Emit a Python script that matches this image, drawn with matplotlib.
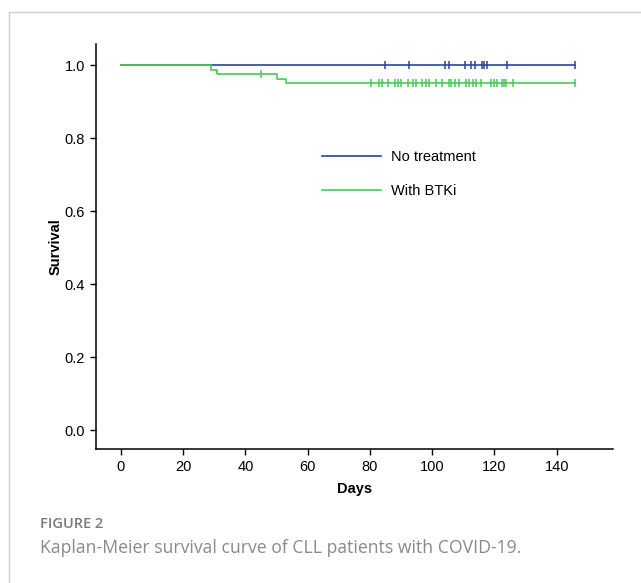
import matplotlib
matplotlib.use("Agg")
import matplotlib.pyplot as plt
from matplotlib.lines import Line2D
import numpy as np

# ---- data ----
series_names = ["No treatment", "With BTKi"]

# No treatment: no events, survival stays 1.0
blue_step_times = [0, 146]
blue_step_surv = [1.0, 1.0]
blue_censor_times = [84.8, 92.7, 104.0, 105.5, 110.6, 112.6, 113.9, 115.9,
                     116.6, 117.5, 123.9, 145.8]

# With BTKi: step function
green_step_times = [0, 29, 31, 50, 53, 146]
green_step_surv = [1.0, 0.9875, 0.975, 0.9625, 0.95, 0.95]
green_censor_times = [45.0, 80.3, 82.9, 83.8, 85.9, 88.2, 89.0, 90.1, 92.2,
                      93.8, 94.9, 96.7, 98.0, 98.9, 101.1, 103.1, 105.3,
                      106.2, 107.2, 108.6, 111.0, 111.7, 113.1, 114.2, 115.6,
                      118.8, 120.0, 120.8, 122.3, 123.0, 123.7, 126.0, 145.8]

x_ticks = [0, 20, 40, 60, 80, 100, 120, 140]
y_ticks = [0.0, 0.2, 0.4, 0.6, 0.8, 1.0]

BLUE = "#2b43a6"
GREEN = "#46cc57"

plt.rcParams["font.family"] = ["Liberation Sans", "DejaVu Sans"]

fig = plt.figure(figsize=(6.41, 5.83), dpi=100)

# outer light frame
fig.add_artist(Line2D([9 / 641, 9 / 641], [0, 1 - 11.5 / 583],
                      transform=fig.transFigure, color="#cfcfcf", lw=1.0))
fig.add_artist(Line2D([9 / 641, 1], [1 - 11.5 / 583, 1 - 11.5 / 583],
                      transform=fig.transFigure, color="#cfcfcf", lw=1.0))

ax = fig.add_axes([96 / 641, 1 - 449 / 583, (612.7 - 96) / 641, (449 - 44) / 583])


def surv_at(times, survs, t):
    idx = np.searchsorted(times, t, side="right") - 1
    idx = max(0, min(idx, len(survs) - 1))
    return survs[idx]


# blue first, green on top
ax.step(blue_step_times, blue_step_surv, where="post", color=BLUE, lw=1.2,
        label=series_names[0])
ax.plot(blue_censor_times,
        [surv_at(blue_step_times, blue_step_surv, t) for t in blue_censor_times],
        ls="none", marker="|", ms=6, mew=1.1, color=BLUE)

ax.step(green_step_times, green_step_surv, where="post", color=GREEN, lw=1.2,
        label=series_names[1])
ax.plot(green_censor_times,
        [surv_at(green_step_times, green_step_surv, t) for t in green_censor_times],
        ls="none", marker="|", ms=6, mew=1.1, color=GREEN)

ax.set_xlim(-8, 158)
ax.set_ylim(-0.052, 1.058)
ax.set_xticks(x_ticks)
ax.set_yticks(y_ticks)
ax.set_yticklabels([f"{v:.1f}" for v in y_ticks])
for s in ["top", "right"]:
    ax.spines[s].set_visible(False)
for s in ["left", "bottom"]:
    ax.spines[s].set_linewidth(1.1)
ax.tick_params(axis="both", direction="out", length=4, width=1.0,
               labelsize=10.5, pad=4)

ax.set_xlabel("Days", fontsize=10.5, fontweight="bold", labelpad=6)
ax.set_ylabel("Survival", fontsize=10.5, fontweight="bold", labelpad=1)

leg = ax.legend(loc="upper left", bbox_to_anchor=(0.427, 0.753), frameon=False,
                fontsize=10.5, handlelength=4.0, handletextpad=0.7,
                labelspacing=1.38, borderaxespad=0)

fig.text(40 / 641, 1 - 524 / 583, "FIGURE 2", fontsize=10.5, color="#7a7a7a",
         family=["Open Sans", "DejaVu Sans"], fontweight="semibold",
         va="center", ha="left")
fig.text(40 / 641, 1 - 548 / 583,
         "Kaplan-Meier survival curve of CLL patients with COVID-19.",
         fontsize=12.7, color="#8a8a8a", family=["Open Sans", "DejaVu Sans"],
         va="center", ha="left")

fig.savefig("out.png", dpi=100)
